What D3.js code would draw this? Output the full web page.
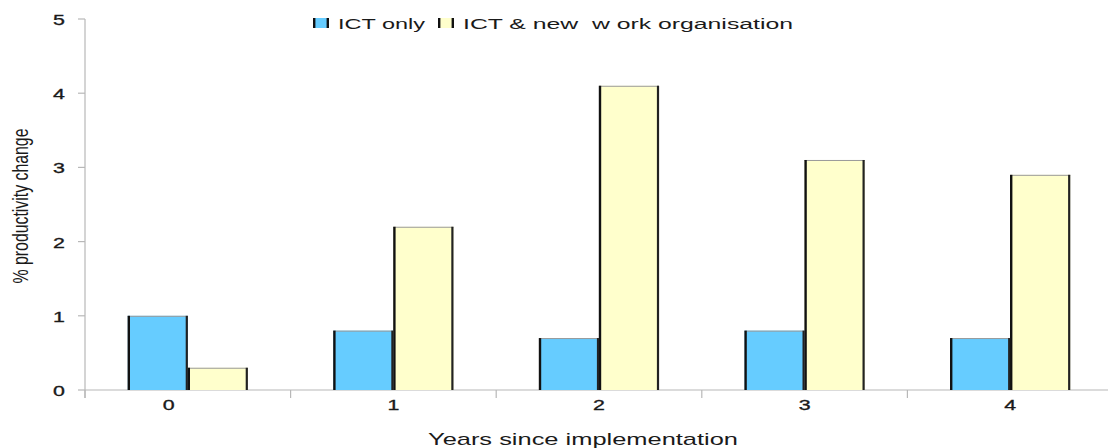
<!DOCTYPE html>
<html>
<head>
<meta charset="utf-8">
<script src="https://cdn.jsdelivr.net/npm/d3@7"></script>
<style>
  html, body { margin: 0; padding: 0; background: #fff; }
  svg text { font-family: "Liberation Sans", Arial, sans-serif; fill: #1a1a1a; }
  svg text.heavy { stroke: #1a1a1a; stroke-width: 0.35; }
</style>
</head>
<body>
<svg id="chart" width="1108" height="448"></svg>
<script>
// Productivity change by years since implementation
const categories = ["0", "1", "2", "3", "4"];
const seriesNames = ["ICT only", "ICT & new  w ork organisation"];
const ictOnly = [1.0, 0.8, 0.7, 0.8, 0.7];
const ictNewWork = [0.3, 2.2, 4.1, 3.1, 2.9];
const yTicks = [0, 1, 2, 3, 4, 5];
const seriesColors = ["#66ccff", "#ffffcc"];

const svg = d3.select("#chart");
const stretch = 1.38; // glyphs are drawn wide

const x0 = d3.scaleBand().domain(categories).range([85, 1113]).paddingInner(0).paddingOuter(0);
const groupW = 120;
const x1 = d3.scaleBand().domain(seriesNames).range([0, groupW]).padding(0);
const y = d3.scaleLinear().domain([0, 5]).range([390, 19]);

const data = categories.map((c, i) => ({ cat: c, values: [ictOnly[i], ictNewWork[i]] }));

// axes
const axisColor = "#b8b8b8";
svg.append("line").attr("x1", 85).attr("x2", 85).attr("y1", y(5)).attr("y2", 398)
  .attr("stroke", axisColor).attr("stroke-width", 1.2);
svg.append("line").attr("x1", 85).attr("x2", 1108).attr("y1", y(0)).attr("y2", y(0))
  .attr("stroke", axisColor).attr("stroke-width", 1.2);

// y ticks and labels
yTicks.forEach(t => {
  svg.append("line").attr("x1", 78).attr("x2", 85).attr("y1", y(t)).attr("y2", y(t))
    .attr("stroke", axisColor).attr("stroke-width", 1.2);
  svg.append("text").attr("class", "heavy")
    .attr("transform", `translate(65,${y(t) + 6}) scale(${stretch},1)`)
    .attr("text-anchor", "end").attr("font-size", 15.5)
    .text(t);
});

// x ticks at band boundaries
categories.forEach(c => {
  const bx = x0(c);
  svg.append("line").attr("x1", bx).attr("x2", bx).attr("y1", y(0)).attr("y2", 398)
    .attr("stroke", axisColor).attr("stroke-width", 1.2);
});

// category labels
categories.forEach((c, i) => {
  const cx = x0(c) + x0.bandwidth() / 2 + (i === 0 ? -19 : 0);
  svg.append("text").attr("class", "heavy")
    .attr("transform", `translate(${cx},410) scale(${stretch},1)`)
    .attr("text-anchor", "middle").attr("font-size", 15.5)
    .text(c);
});

// bars
const groups = svg.append("g").selectAll("g").data(data).join("g")
  .attr("transform", d => `translate(${x0(d.cat) + x0.bandwidth() / 2 - groupW / 2},0)`);

const barData = d => d.values.map((v, j) => ({ v, j, name: seriesNames[j] }));

groups.selectAll("rect.bar").data(barData).join("rect")
  .attr("class", "bar")
  .attr("x", d => x1(d.name))
  .attr("y", d => y(d.v))
  .attr("width", x1.bandwidth())
  .attr("height", d => y(0) - y(d.v))
  .attr("fill", d => seriesColors[d.j]);

// thin top edge
groups.selectAll("line.top").data(barData).join("line")
  .attr("class", "top")
  .attr("x1", d => x1(d.name)).attr("x2", d => x1(d.name) + x1.bandwidth())
  .attr("y1", d => y(d.v) + 0.5).attr("y2", d => y(d.v) + 0.5)
  .attr("stroke", "#9a9a9a").attr("stroke-width", 1);

// heavy vertical edges
groups.selectAll("line.left").data(barData).join("line")
  .attr("class", "left")
  .attr("x1", d => x1(d.name) + 1).attr("x2", d => x1(d.name) + 1)
  .attr("y1", d => y(d.v)).attr("y2", y(0))
  .attr("stroke", "#111").attr("stroke-width", 2.4);
groups.selectAll("line.right").data(barData).join("line")
  .attr("class", "right")
  .attr("x1", d => x1(d.name) + x1.bandwidth() - 1).attr("x2", d => x1(d.name) + x1.bandwidth() - 1)
  .attr("y1", d => y(d.v)).attr("y2", y(0))
  .attr("stroke", "#222").attr("stroke-width", 2.2);

// legend
const legendItems = [
  { name: seriesNames[0], color: seriesColors[0], sx: 313, tx: 338, tw: 87 },
  { name: seriesNames[1], color: seriesColors[1], sx: 438, tx: 463, tw: 330 }
];
legendItems.forEach(it => {
  svg.append("rect").attr("x", it.sx).attr("y", 18).attr("width", 16).attr("height", 10)
    .attr("fill", it.color);
  svg.append("line").attr("x1", it.sx + 1.2).attr("x2", it.sx + 1.2).attr("y1", 18).attr("y2", 28)
    .attr("stroke", "#111").attr("stroke-width", 2.4);
  svg.append("line").attr("x1", it.sx + 14.8).attr("x2", it.sx + 14.8).attr("y1", 18).attr("y2", 28)
    .attr("stroke", "#111").attr("stroke-width", 2.4);
  svg.append("text").attr("x", it.tx).attr("y", 29).attr("font-size", 15.5)
    .attr("textLength", it.tw).attr("lengthAdjust", "spacingAndGlyphs")
    .style("white-space", "pre")
    .text(it.name);
});

// axis titles
svg.append("text").attr("x", 428).attr("y", 445).attr("font-size", 17)
  .attr("textLength", 310).attr("lengthAdjust", "spacingAndGlyphs")
  .text("Years since implementation");

svg.append("text")
  .attr("transform", `translate(28,206) scale(${stretch},1) rotate(-90)`)
  .attr("text-anchor", "middle").attr("font-size", 15.5)
  .attr("textLength", 155).attr("lengthAdjust", "spacingAndGlyphs")
  .text("% productivity change");
</script>
</body>
</html>
